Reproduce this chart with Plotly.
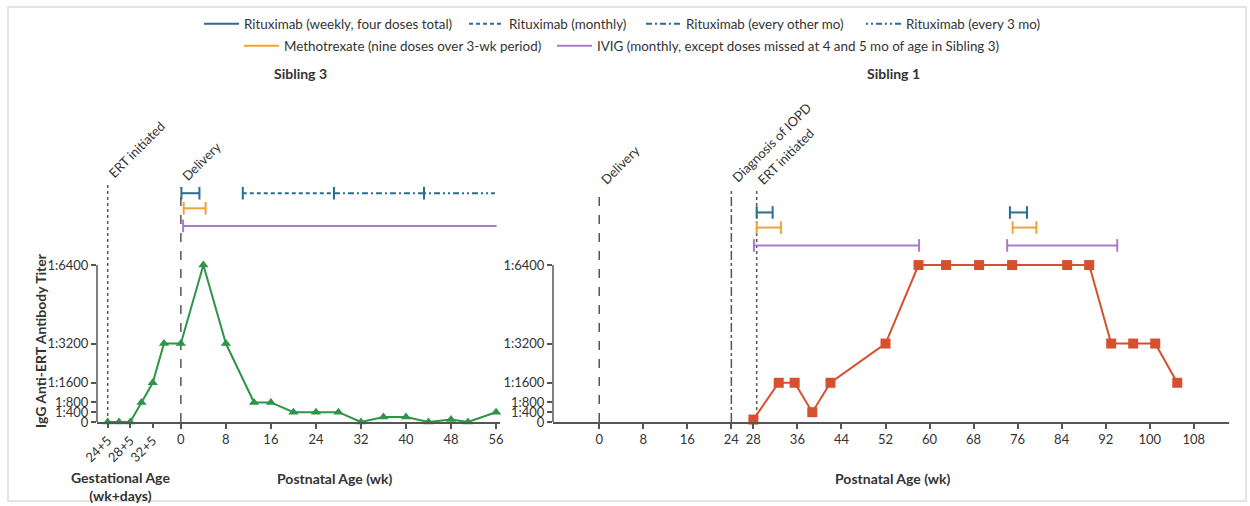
import plotly.graph_objects as go

# ---------------- data ----------------
# Sibling 3: weeks relative to delivery (negative = gestational)
sib3_weeks = [-13, -11, -9, -7, -5, -3, 0, 4, 8, 13, 16, 20, 24, 28, 32, 36, 40, 44, 48, 51, 56]
sib3_titer = [0, 0, 0, 800, 1600, 3200, 3200, 6400, 3200, 800, 800, 400, 400, 400, 0, 200, 200, 0, 100, 0, 400]

# Sibling 1: postnatal weeks
sib1_weeks = [28, 32.6, 35.5, 38.7, 42, 52, 58, 63, 69, 75, 85, 89, 93, 97, 101, 105]
sib1_titer = [100, 1600, 1600, 400, 1600, 3200, 6400, 6400, 6400, 6400, 6400, 6400, 3200, 3200, 3200, 1600]

# y ticks
titer_vals = [0, 400, 800, 1600, 3200, 6400]
titer_text = ["0", "1:400", "1:800", "1:1600", "1:3200", "1:6400"]

# x ticks
gest_vals = [-13, -9, -5]
gest_text = ["24+5", "28+5", "32+5"]
left_post_ticks = [0, 8, 16, 24, 32, 40, 48, 56]
right_post_ticks = [0, 8, 16, 24, 28, 36, 44, 52, 60, 68, 76, 84, 92, 100, 108]

# treatments (start, end) in weeks
s3_ritux_weekly = [0.1, 3.3]
s3_ritux_monthly = [11, 27.2]
s3_ritux_other = [27.2, 43.2]
s3_ritux_3mo = [43.2, 55.8]
s3_mtx = [0.5, 4.4]
s3_ivig = [0.4, 56.1]

s1_ritux_weekly = [[28.6, 31.5], [74.6, 77.7]]
s1_mtx = [[28.6, 33.0], [75.1, 79.4]]
s1_ivig = [[28.1, 58.1], [74.1, 94.1]]

# events: (x, label, dash)
s3_events = [(-13, "ERT initiated", "dot"), (0, "Delivery", "dash")]
s1_events = [(0, "Delivery", "dash"), (24, "Diagnosis of IOPD", "dashdot"), (28.6, "ERT initiated", "dot")]

# ---------------- styles ----------------
FONT = "Lato"
TXT = "#333333"
AX = "#555555"
BLUE = "#2b6d8c"
ORANGE = "#f2a23a"
PURPLE = "#a87cc4"
GREEN = "#2e9447"
RED = "#d6502f"

Y_MAX = 11500
# row levels for treatment bars (y data units)
L_ROWS = {"ritux": 9330, "mtx": 8715, "ivig": 7995}
R_ROWS = {"ritux": 8545, "mtx": 7930, "ivig": 7200}
L_EVENT_TOP = {-13: 9700, 0: 9580}
R_EVENT_TOP = {0: 9420, 24: 9520, 28.6: 9420}

W, H = 1250, 506

# legend placement (sample start x px, row y px) for each entry
LEG_POS = {
    "legend": (206, 24), "legend2": (471, 24), "legend3": (648, 24), "legend4": (868, 24),
    "legend5": (246, 46), "legend6": (559, 46),
}

fig = go.Figure()


def bar(x0, x1, y, color, dash, xa, ya, name=None, legend=None, caps=(True, True)):
    fig.add_trace(go.Scatter(
        x=[x0, x1], y=[y, y], mode="lines", xaxis=xa, yaxis=ya,
        line=dict(color=color, width=2, dash=dash),
        name=name, showlegend=name is not None, legend=legend,
        hoverinfo="skip", cliponaxis=False))
    cx = [v for v, c in zip([x0, x1], caps) if c]
    if cx:
        fig.add_trace(go.Scatter(
            x=cx, y=[y] * len(cx), mode="markers", xaxis=xa, yaxis=ya,
            marker=dict(symbol="line-ns-open", size=9, color=color,
                        line=dict(color=color, width=2)),
            showlegend=False, hoverinfo="skip", cliponaxis=False))


# ---- Sibling 3 (left) ----
for x, lab, dash in s3_events:
    fig.add_trace(go.Scatter(x=[x, x], y=[0, L_EVENT_TOP[x]], mode="lines",
                             line=dict(color="#555555", width=1.5, dash=dash),
                             showlegend=False, hoverinfo="skip", xaxis="x", yaxis="y"))

bar(*s3_ritux_weekly, L_ROWS["ritux"], BLUE, "solid", "x", "y",
    name="Rituximab (weekly, four doses total)", legend="legend")
bar(*s3_ritux_monthly, L_ROWS["ritux"], BLUE, "4px,3px", "x", "y",
    name="Rituximab (monthly)", legend="legend2", caps=(True, True))
bar(*s3_ritux_other, L_ROWS["ritux"], BLUE, "6px,3px,2px,3px", "x", "y",
    name="Rituximab (every other mo)", legend="legend3", caps=(False, True))
bar(*s3_ritux_3mo, L_ROWS["ritux"], BLUE, "2px,3px,2px,3px,6px,3px", "x", "y",
    name="Rituximab (every 3 mo)", legend="legend4", caps=(False, False))
bar(*s3_mtx, L_ROWS["mtx"], ORANGE, "solid", "x", "y",
    name="Methotrexate (nine doses over 3-wk period)", legend="legend5")
bar(*s3_ivig, L_ROWS["ivig"], PURPLE, "solid", "x", "y",
    name="IVIG (monthly, except doses missed at 4 and 5 mo of age in Sibling 3)",
    legend="legend6", caps=(True, False))

fig.add_trace(go.Scatter(
    x=sib3_weeks, y=sib3_titer, mode="lines+markers", xaxis="x", yaxis="y",
    line=dict(color=GREEN, width=2),
    marker=dict(symbol="triangle-up", size=9, color=GREEN),
    showlegend=False, cliponaxis=False, name="Sibling 3"))

# dummy trace for gestational-age tick axis
fig.add_trace(go.Scatter(x=[gest_vals[0]], y=[0], xaxis="x3", yaxis="y", mode="markers",
                         marker=dict(opacity=0), showlegend=False, hoverinfo="skip"))

# ---- Sibling 1 (right) ----
for x, lab, dash in s1_events:
    fig.add_trace(go.Scatter(x=[x, x], y=[0, R_EVENT_TOP[x]], mode="lines",
                             line=dict(color="#555555", width=1.5, dash=dash),
                             showlegend=False, hoverinfo="skip", xaxis="x2", yaxis="y2"))

for x0, x1 in s1_ritux_weekly:
    bar(x0, x1, R_ROWS["ritux"], BLUE, "solid", "x2", "y2")
for x0, x1 in s1_mtx:
    bar(x0, x1, R_ROWS["mtx"], ORANGE, "solid", "x2", "y2")
for x0, x1 in s1_ivig:
    bar(x0, x1, R_ROWS["ivig"], PURPLE, "solid", "x2", "y2")

fig.add_trace(go.Scatter(
    x=sib1_weeks, y=sib1_titer, mode="lines+markers", xaxis="x2", yaxis="y2",
    line=dict(color=RED, width=2),
    marker=dict(symbol="square", size=10, color=RED),
    showlegend=False, cliponaxis=False, name="Sibling 1"))

# ---------------- layout ----------------
y_dom = [(H - 422) / H, (H - 140) / H]
xl_dom = [97 / W, 500 / W]
xr_dom = [553 / W, 1229 / W]
tickfont = dict(family=FONT, size=13, color=TXT)

xcommon = dict(showgrid=False, zeroline=False, showline=True, linecolor=AX, linewidth=1.5,
               ticks="outside", ticklen=5, tickcolor=AX, tickwidth=1.5, tickfont=tickfont)
ycommon = dict(range=[0, Y_MAX], domain=y_dom, showgrid=False, zeroline=False, showline=False,
               tickmode="array", tickvals=titer_vals, ticktext=titer_text,
               ticks="outside", ticklen=5, tickcolor=AX, tickwidth=1.5, tickfont=tickfont)

legends = {}
for key, (sx, ry) in LEG_POS.items():
    legends[key] = dict(orientation="h", x=(sx - 7) / W, xanchor="left",
                        y=(H - ry) / H, yanchor="middle",
                        font=dict(family=FONT, size=13.4, color=TXT), itemwidth=35,
                        bgcolor="rgba(0,0,0,0)")

fig.update_layout(
    width=W, height=H,
    margin=dict(l=0, r=0, t=0, b=0, autoexpand=False),
    paper_bgcolor="white", plot_bgcolor="white",
    font=dict(family=FONT, size=13, color=TXT),
    xaxis=dict(domain=xl_dom, range=[-14.9, 56.7], anchor="y",
               tickmode="array", tickvals=left_post_ticks, **xcommon),
    xaxis3=dict(overlaying="x", anchor="y", range=[-14.9, 56.7], side="bottom",
                showgrid=False, zeroline=False, showline=False,
                tickmode="array", tickvals=gest_vals, ticktext=gest_text, tickangle=-45,
                ticks="outside", ticklen=5, tickcolor=AX, tickwidth=1.5, tickfont=tickfont),
    xaxis2=dict(domain=xr_dom, range=[-8.4, 114.4], anchor="y2",
                tickmode="array", tickvals=right_post_ticks, **xcommon),
    yaxis=dict(anchor="x", **ycommon),
    yaxis2=dict(anchor="x2", **ycommon),
    **legends,
)

# y-axis lines only from 0 to 1:6400
for xr, yr in [("x domain", "y"), ("x2 domain", "y2")]:
    fig.add_shape(type="line", xref=xr, yref=yr, x0=0, x1=0, y0=0, y1=titer_vals[-1],
                  line=dict(color=AX, width=1.5))

# figure frame
fig.add_shape(type="rect", xref="paper", yref="paper",
              x0=8 / W, x1=1246 / W, y0=(H - 501) / H, y1=(H - 7) / H,
              line=dict(color="#dcdce0", width=1.5))

# event labels
for x, lab, dash in s3_events:
    fig.add_annotation(x=x, y=L_EVENT_TOP[x], xref="x", yref="y", text=lab, showarrow=False,
                       textangle=-45, xanchor="left", yanchor="bottom", xshift=-5, yshift=1,
                       font=dict(family=FONT, size=13, color=TXT))
for x, lab, dash in s1_events:
    fig.add_annotation(x=x, y=R_EVENT_TOP[x], xref="x2", yref="y2", text=lab, showarrow=False,
                       textangle=-45, xanchor="left", yanchor="bottom", xshift=-5, yshift=1,
                       font=dict(family=FONT, size=13, color=TXT))

bold = dict(family=FONT, size=14, color=TXT)
def ptext(x, y, text, **kw):
    fig.add_annotation(x=x / W, y=(H - y) / H, xref="paper", yref="paper", text=text,
                       showarrow=False, font=bold, xanchor="center", yanchor="middle", **kw)

ptext(300, 73, "<b>Sibling 3</b>")
ptext(893, 73, "<b>Sibling 1</b>")
ptext(120, 486, "<b>Gestational Age<br>(wk+days)</b>")
ptext(335, 478, "<b>Postnatal Age (wk)</b>")
ptext(893, 478, "<b>Postnatal Age (wk)</b>")
ptext(40, 341, "<b>IgG Anti-ERT Antibody Titer</b>", textangle=-90)

fig.write_html("out.html", config={"displayModeBar": False},
               post_script="document.body.style.margin='0';document.body.style.overflow='hidden';")
